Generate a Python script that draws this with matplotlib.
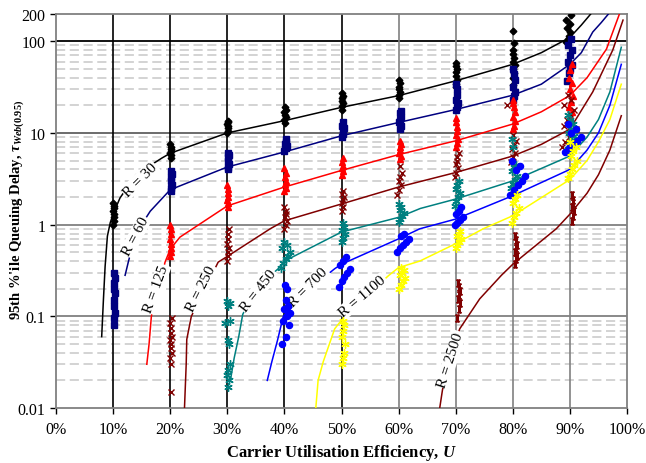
import matplotlib
matplotlib.use("Agg")
import matplotlib.pyplot as plt
import numpy as np
from matplotlib.ticker import FixedLocator, FuncFormatter

plt.rcParams['font.family'] = ['Liberation Serif', 'DejaVu Serif']
plt.rcParams['mathtext.fontset'] = 'custom'
plt.rcParams['mathtext.rm'] = 'Liberation Serif:bold'
plt.rcParams['mathtext.it'] = 'Liberation Serif:italic:bold'
plt.rcParams['mathtext.bf'] = 'Liberation Serif:bold'

# ---------------- model curves (U in %, delay) ----------------
r30_u = [8.0, 8.3, 8.6, 9.0, 9.5, 10, 11.2, 14, 18.5, 20, 30, 40, 50, 60, 70, 80, 85, 90, 92, 93.7]
r30_v = [0.06, 0.15, 0.35, 0.75, 1.05, 1.3, 1.95, 3.5, 5.3, 6.0, 10, 13.6, 19, 25.5, 37, 56, 75, 110, 150, 200]
r60_u = [12.1, 12.7, 14, 16.5, 20, 30, 40, 50, 60, 70, 80, 85, 90, 92, 94, 95.5, 96.8]
r60_v = [0.28, 0.40, 0.8, 1.4, 2.4, 4.25, 6.2, 9.3, 13, 18, 25.8, 34, 56, 75, 126, 160, 200]
r125_u = [15.9, 16.3, 16.7, 19.1, 20, 21.7, 30, 40, 50, 60, 70, 80, 85, 90, 93, 96.4, 98.7]
r125_v = [0.03, 0.05, 0.1, 0.39, 0.54, 0.73, 1.6, 2.57, 3.9, 5.8, 8.2, 12.5, 17, 25.6, 40, 82, 200]
r250_u = [22.5, 22.8, 22.9, 23.7, 28.4, 30, 37.5, 40, 50, 60, 70, 80, 85, 90, 94, 97.5, 99.3]
r250_v = [0.01, 0.03, 0.056, 0.1, 0.39, 0.45, 0.9, 1.1, 1.68, 2.57, 3.7, 5.6, 7.5, 11, 28, 80, 170]
r450_u = [30.6, 31.2, 32.0, 32.7, 35, 38.9, 40, 50, 60, 63.8, 70, 80, 90, 93, 95, 97, 99]
r450_v = [0.021, 0.035, 0.06, 0.105, 0.2, 0.33, 0.40, 0.83, 1.2, 1.5, 1.9, 3.0, 5.6, 9, 14, 28, 86]
r700_u = [37.0, 37.8, 38.8, 39.8, 44, 48.8, 50, 60, 63.7, 70, 80, 90, 93, 95, 97, 99]
r700_v = [0.02, 0.032, 0.055, 0.1, 0.19, 0.33, 0.37, 0.70, 0.9, 1.15, 2.07, 4.0, 6.5, 10, 20, 56]
r1100_u = [45.5, 45.9, 46.8, 48.8, 49.7, 54, 58.3, 60, 63.7, 70, 74.8, 80, 90, 93, 95, 97, 99]
r1100_v = [0.01, 0.02, 0.032, 0.073, 0.086, 0.16, 0.28, 0.34, 0.40, 0.62, 0.9, 1.25, 3.1, 5, 8, 14, 34]
r2500_u = [67.2, 67.7, 69, 70.7, 74.2, 78, 80, 87.6, 90, 93, 95, 97, 99]
r2500_v = [0.01, 0.016, 0.035, 0.073, 0.155, 0.28, 0.37, 0.9, 1.3, 2.2, 3.5, 6.5, 15.4]

# ---------------- simulation points ----------------
s30_x = [10.0, 10.1, 10.2, 10.1, 10.0, 10.2, 10.1, 10.0,
         20.1, 20.2, 20.0, 20.1, 20.2, 20.1, 20.0,
         30.0, 30.1, 30.2, 30.1, 30.0, 30.2, 30.1,
         40.1, 40.0, 40.2, 40.1, 40.0, 40.2, 40.1,
         50.0, 50.1, 50.2, 50.1, 50.0, 50.2, 50.1,
         60.1, 60.0, 60.2, 60.1, 60.0, 60.2, 60.1,
         70.0, 70.1, 70.2, 70.1, 70.0, 70.2, 70.1, 70.0,
         80.0, 80.1, 80.2, 80.1, 80.3, 80.0, 80.2, 80.1, 80.0, 80.2, 80.1,
         89.3, 89.6, 89.9, 90.1, 89.5, 90.0, 89.4, 90.2]
s30_y = [1.0, 1.1, 1.2, 1.3, 1.4, 1.5, 1.6, 1.7,
         5.3, 5.7, 6.0, 6.3, 6.7, 7.0, 7.5,
         10, 10.6, 11.2, 11.8, 12.4, 13.0, 13.5,
         12.8, 13.8, 14.8, 15.8, 17, 18, 19,
         18, 19.5, 21, 22.5, 24, 25.5, 27.5,
         24, 26, 28, 30, 32, 35, 37.5,
         31.5, 34, 38, 42, 46, 50, 54, 58,
         33, 40, 45, 50, 55, 60, 66, 72, 80, 95, 130,
         97, 105, 115, 125, 140, 155, 170, 195]

s60_x = [10.1, 10.2, 10.3, 10.1, 10.2, 10.3, 10.2, 10.1, 10.3, 10.2,
         20.1, 20.2, 20.3, 20.1, 20.2, 20.3, 20.2,
         30.1, 30.2, 30.3, 30.1, 30.2, 30.3, 30.2,
         40.0, 40.2, 40.4, 40.1, 40.3, 40.2,
         50.1, 50.3, 50.2, 50.4, 50.1, 50.3,
         60.2, 60.4, 60.1, 60.3, 60.5, 60.2, 60.4,
         70.0, 70.2, 70.4, 70.1, 70.3, 70.2, 70.0,
         80.0, 80.2, 80.4, 80.1, 80.3, 80.2, 80.0,
         89.5, 89.8, 90.1, 90.4, 89.6, 90.0, 90.3, 89.7, 90.2]
s60_y = [0.08, 0.095, 0.11, 0.13, 0.15, 0.18, 0.2, 0.23, 0.26, 0.3,
         2.3, 2.5, 2.7, 3.0, 3.3, 3.6, 3.8,
         4.0, 4.3, 4.6, 5.0, 5.4, 5.8, 6.1,
         6.4, 6.8, 7.2, 7.6, 8.0, 8.6,
         9.0, 9.8, 10.5, 11.2, 12, 13,
         11, 12, 13, 14, 15, 16.5, 17.5,
         17.6, 19, 21, 23, 26, 30, 34,
         23, 25, 28, 32, 38, 44, 50,
         37, 45, 50, 55, 60, 70, 80, 90, 105]

s125_x = [20.0, 20.1, 20.2, 20.1, 20.0, 20.2, 20.1, 20.0,
          30.1, 30.2, 30.0, 30.1, 30.2, 30.1, 30.0,
          40.0, 40.2, 40.1, 40.3, 40.1, 40.2, 40.0,
          50.1, 50.2, 50.0, 50.3, 50.1, 50.2,
          60.2, 60.4, 60.1, 60.3, 60.2, 60.4, 60.3,
          70.0, 70.2, 70.4, 70.1, 70.3, 70.2, 70.0, 70.1,
          80.0, 80.2, 80.4, 80.1, 80.3, 80.2, 80.0, 80.1,
          89.8, 90.1, 90.4, 89.9, 90.2, 90.5, 90.0, 90.3, 89.9, 90.1, 90.4]
s125_y = [0.45, 0.5, 0.55, 0.62, 0.7, 0.8, 0.9, 1.0,
          1.55, 1.7, 1.85, 2.0, 2.2, 2.45, 2.7,
          2.3, 2.5, 2.75, 3.0, 3.3, 3.7, 4.1,
          3.5, 3.8, 4.1, 4.4, 4.8, 5.3,
          5.2, 5.6, 6.0, 6.5, 7.0, 7.6, 8.2,
          7, 7.8, 8.6, 9.5, 10.5, 11.5, 13, 14.5,
          11, 12, 13.5, 15, 17, 19, 21, 23,
          13, 15, 17, 19, 22, 25, 30, 35, 40, 48, 56]

s250_x = [20.1, 20.2, 20.0, 20.3, 20.1, 20.2, 20.0, 20.3, 20.1, 20.2, 20.0, 20.3,
          30.0, 30.2, 30.1, 30.3, 30.0, 30.2, 30.1, 30.3,
          40.0, 40.2, 40.4, 40.1, 40.3, 40.2, 40.0,
          50.1, 50.3, 50.0, 50.2, 50.4, 50.1, 50.3,
          59.8, 60.1, 60.4, 60.0, 60.3, 60.6, 60.2,
          69.8, 70.1, 70.4, 70.0, 70.3, 70.2, 70.5,
          79.6, 80.0, 80.4, 79.8, 80.2, 80.6, 80.0, 79.0,
          88.6, 89.2, 89.8, 90.4, 91.0, 88.9, 89.5, 90.1, 90.7, 89.0, 90.2, 89.6]
s250_y = [0.015, 0.03, 0.035, 0.04, 0.045, 0.05, 0.055, 0.06, 0.065, 0.075, 0.085, 0.095,
          0.4, 0.45, 0.5, 0.55, 0.62, 0.7, 0.8, 0.9,
          0.9, 1.0, 1.1, 1.2, 1.3, 1.4, 1.55,
          1.4, 1.55, 1.7, 1.85, 2.0, 2.15, 2.3,
          2.1, 2.4, 2.7, 3.0, 3.3, 3.7, 4.4,
          3.3, 3.7, 4.1, 4.6, 5.0, 5.5, 6.1,
          4.8, 5.4, 6.0, 6.6, 7.3, 8.2, 9.6, 20,
          7, 8, 9, 10, 11, 12, 14, 16, 18, 20, 23, 26]

s450_x = [30.1, 30.3, 30.0, 30.2, 30.4, 30.3, 30.1, 29.6, 30.5, 30.2, 30.4, 30.0,
          39.4, 39.8, 40.2, 40.6, 41.0, 39.6, 40.4, 40.0,
          50.0, 50.3, 50.6, 50.1, 50.4, 50.2,
          60.0, 60.3, 60.6, 60.9, 60.2, 60.5, 60.1,
          69.8, 70.1, 70.4, 70.7, 70.0, 70.3, 70.5,
          79.6, 80.0, 80.4, 80.8, 79.8, 80.2, 80.6, 80.1, 79.9,
          89.6, 90.0, 90.4, 90.8, 89.8, 90.2, 90.6, 90.0, 89.7]
s450_y = [0.017, 0.02, 0.023, 0.026, 0.03, 0.05, 0.055, 0.085, 0.09, 0.13, 0.14, 0.147,
          0.34, 0.38, 0.42, 0.46, 0.5, 0.55, 0.6, 0.65,
          0.65, 0.72, 0.8, 0.87, 0.95, 1.05,
          1.06, 1.15, 1.25, 1.35, 1.45, 1.55, 1.67,
          1.6, 1.8, 2.0, 2.2, 2.45, 2.7, 3.0,
          2.5, 2.8, 3.1, 3.4, 3.8, 4.2, 4.5, 7, 8.5,
          6.7, 7.5, 8.3, 9.2, 10, 11, 12.5, 14, 15.5]

s700_x = [39.5, 40.3, 40.8, 39.8, 40.5, 41.0, 40.0, 40.6, 40.2, 40.4, 40.1,
          49.5, 50.0, 50.5, 51.0, 51.5, 49.8, 50.3, 50.8,
          59.8, 60.3, 60.8, 61.3, 61.8, 60.5, 61.0,
          69.8, 70.3, 70.8, 71.3, 70.0, 70.6, 71.0,
          79.5, 80.2, 80.9, 81.6, 82.2, 80.5, 81.2, 79.9,
          89.2, 89.9, 90.6, 91.3, 92.0, 90.2, 91.0, 89.6]
s700_y = [0.05, 0.06, 0.08, 0.09, 0.1, 0.11, 0.12, 0.13, 0.15, 0.2, 0.22,
          0.21, 0.24, 0.27, 0.3, 0.33, 0.36, 0.4, 0.44,
          0.5, 0.55, 0.6, 0.65, 0.7, 0.75, 0.79,
          0.98, 1.05, 1.12, 1.2, 1.3, 1.4, 1.55,
          2.1, 2.4, 2.7, 3.0, 3.4, 3.9, 4.4, 5.0,
          6.2, 6.8, 7.5, 8.2, 9, 10, 11, 12.5]

s1100_x = [50.0, 50.2, 50.4, 50.6, 50.1, 50.3, 50.5, 50.2,
           60.0, 60.4, 60.8, 61.2, 60.2, 60.6, 61.0, 60.4,
           70.0, 70.3, 70.6, 70.9, 70.2, 70.5, 70.8,
           79.8, 80.2, 80.6, 81.0, 80.0, 80.4, 80.8,
           89.6, 90.0, 90.4, 90.8, 91.2, 90.2, 90.6, 91.0, 90.0]
s1100_y = [0.03, 0.035, 0.04, 0.05, 0.06, 0.07, 0.08, 0.09,
           0.2, 0.22, 0.24, 0.26, 0.28, 0.3, 0.32, 0.34,
           0.55, 0.6, 0.65, 0.7, 0.75, 0.8, 0.85,
           1.05, 1.2, 1.35, 1.5, 1.7, 1.9, 2.1,
           3.2, 3.6, 4.0, 4.5, 5.0, 5.6, 6.3, 7.0, 7.9]

s2500_x = [70.3, 70.5, 70.7, 70.4, 70.6, 70.8, 70.5, 70.4,
           80.3, 80.5, 80.7, 80.4, 80.6, 80.8, 80.5, 80.4,
           90.3, 90.5, 90.7, 90.4, 90.6, 90.5, 90.4]
s2500_y = [0.095, 0.12, 0.14, 0.155, 0.17, 0.19, 0.21, 0.23,
           0.37, 0.42, 0.46, 0.5, 0.55, 0.6, 0.68, 0.75,
           1.1, 1.25, 1.4, 1.55, 1.7, 1.85, 2.1]

labels = ["R = 30", "R = 60", "R = 125", "R = 250", "R = 450", "R = 700", "R = 1100", "R = 2500"]
label_u = [14.7, 13.9, 17.5, 25.5, 35.4, 44.1, 53.7, 69.1]
label_v = [3.1, 0.75, 0.2, 0.2, 0.19, 0.21, 0.166, 0.034]
label_rot = [45, 62, 70, 63, 52, 45, 40, 72]

colors = ['#000000', '#000080', '#FF0000', '#800000', '#008080', '#0000FF', '#FFFF00', '#800000']
markers = ['D', 's', '^', 'x', (6, 2, 0), 'o', (6, 2, 0), '$\\mathrm{I}$']
msizes = [3.4, 4.2, 4.4, 5.0, 6.0, 4.4, 6.0, 5.0]

curves_u = [r30_u, r60_u, r125_u, r250_u, r450_u, r700_u, r1100_u, r2500_u]
curves_v = [r30_v, r60_v, r125_v, r250_v, r450_v, r700_v, r1100_v, r2500_v]
pts_x = [s30_x, s60_x, s125_x, s250_x, s450_x, s700_x, s1100_x, s2500_x]
pts_y = [s30_y, s60_y, s125_y, s250_y, s450_y, s700_y, s1100_y, s2500_y]

fig = plt.figure(figsize=(6.46, 4.64), dpi=100)
ax = fig.add_axes([0.0867, 0.1185, 0.8839, 0.85])
ax.set_yscale('log')
ax.set_xlim(0, 100)
ax.set_ylim(0.01, 200)

# grid lines
for dec in [0.01, 0.1, 1, 10]:
    for m in range(2, 10):
        ax.axhline(dec * m, color='#c8c8c8', lw=1.1, ls=(0, (6, 3)), zorder=0)
hcol = {0.1: '#808080', 1: '#808080', 10: '#606060', 100: '#000000'}
for yv, c in hcol.items():
    ax.axhline(yv, color=c, lw=1.3, zorder=1)
for xv in range(10, 100, 10):
    ax.axvline(xv, color='#000000' if xv <= 50 else '#808080', lw=1.2, zorder=1)

for i in range(8):
    ax.plot(curves_u[i], curves_v[i], color=colors[i], lw=1.1, zorder=3)
for i in range(8):
    ax.plot(pts_x[i], pts_y[i], ls='none', marker=markers[i], ms=msizes[i],
            color=colors[i], mec=colors[i], mew=1.0, zorder=6)
for i in range(8):
    ax.text(label_u[i], label_v[i], labels[i], rotation=label_rot[i], fontsize=11,
            ha='center', va='center', rotation_mode='anchor', zorder=5,
            bbox=dict(facecolor='white', edgecolor='none', pad=0.5))

for s in ax.spines.values():
    s.set_color('#808080')
    s.set_linewidth(1.3)

ax.xaxis.set_major_locator(FixedLocator(list(range(0, 101, 10))))
ax.xaxis.set_major_formatter(FuncFormatter(lambda v, p: f"{int(round(v))}%"))
ax.yaxis.set_major_locator(FixedLocator([0.01, 0.1, 1, 10, 100, 200]))
ax.yaxis.set_minor_locator(FixedLocator([]))
ax.yaxis.set_major_formatter(FuncFormatter(lambda v, p: f"{v:g}"))
ax.tick_params(axis='both', labelsize=11.5, direction='out', length=4, color='#000000', width=1)
ax.tick_params(axis='x', pad=5)

ax.set_xlabel("Carrier Utilisation Efficiency, $U$", fontsize=12, fontweight='bold')
ax.xaxis.set_label_coords(0.5, -0.086)
ax.set_ylabel("95th %'ile Queuing Delay, $\\tau_{Web(0.95)}$", fontsize=10.5, fontweight='bold')
ax.yaxis.set_label_coords(-0.053, 0.505)

fig.savefig("out.png", dpi=100)
